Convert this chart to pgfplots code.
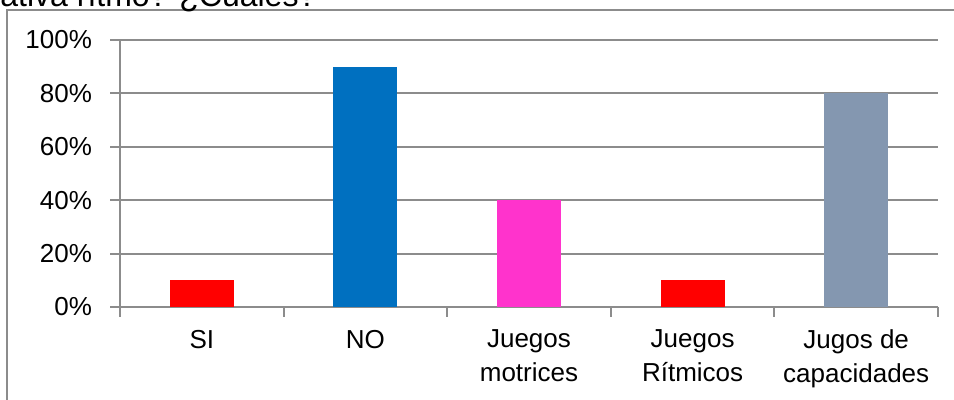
\documentclass[border=0pt]{standalone}
\usepackage{fontspec}
\setmainfont{Liberation Sans}
\usepackage{pgfplots}
\pgfplotsset{compat=1.18}
\definecolor{gridc}{RGB}{140,140,140}
\definecolor{cblue}{RGB}{0,112,192}
\definecolor{cpink}{RGB}{255,51,204}
\definecolor{cgray}{RGB}{132,151,176}
\definecolor{cred}{RGB}{255,0,0}
\begin{document}
\begin{tikzpicture}
\useasboundingbox (0pt,0pt) rectangle (477pt,200pt);
\draw[gridc, line width=0.6pt] (3.5pt,0pt) -- (3.5pt,195pt) -- (477pt,195pt);
\node[anchor=base west, inner sep=0, font=\fontsize{16}{18}\selectfont] at (0pt,196.5pt) {ativa rítmo? ¿Cuáles?};
\begin{axis}[
  at={(60pt,46.5pt)}, anchor=south west, scale only axis,
  width=409pt, height=133.5pt,
  xmin=-0.5, xmax=4.5, ymin=0, ymax=100,
  axis x line*=bottom, axis y line*=left,
  axis line style={gridc, line width=1pt},
  ytick={0,20,40,60,80,100},
  yticklabel={\pgfmathprintnumber{\tick}\%},
  ymajorgrids, grid style={gridc, line width=1pt},
  xtick={-0.5,0.5,1.5,2.5,3.5,4.5},
  xticklabels={SI,NO,{Juegos\\motrices},{Juegos\\Rítmicos},{Jugos de\\capacidades}},
  x tick label as interval,
  tick align=outside, major tick length=5pt,
  tick style={gridc, line width=1pt},
  ticklabel style={font=\fontsize{13}{17}\selectfont},
  /pgf/number format/assume math mode=true,
  xticklabel style={align=center, yshift=-3pt},
  yticklabel style={xshift=-5.5pt},
]
\addplot[ybar, bar width=0.39, bar shift=0pt, fill=cred, draw=none] coordinates {(0,10)};
\addplot[ybar, bar width=0.39, bar shift=0pt, fill=cblue, draw=none] coordinates {(1,90)};
\addplot[ybar, bar width=0.39, bar shift=0pt, fill=cpink, draw=none] coordinates {(2,40)};
\addplot[ybar, bar width=0.39, bar shift=0pt, fill=cred, draw=none] coordinates {(3,10)};
\addplot[ybar, bar width=0.39, bar shift=0pt, fill=cgray, draw=none] coordinates {(4,80)};
\end{axis}
\end{tikzpicture}
\end{document}
